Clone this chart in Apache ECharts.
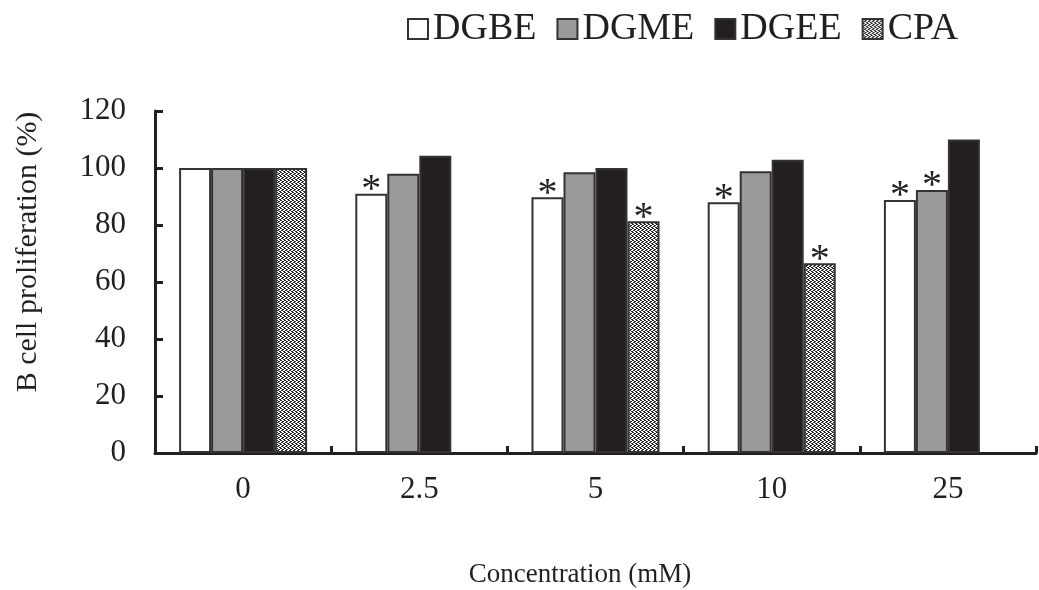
<!DOCTYPE html>
<html>
<head>
<meta charset="utf-8">
<script src="https://cdn.jsdelivr.net/npm/echarts@6/dist/echarts.min.js"></script>
<style>html,body{margin:0;padding:0;background:#fff}#c{width:1039px;height:590px}</style>
</head>
<body>
<div id="c"></div>
<script>
var categories = ['0', '2.5', '5', '10', '25'];
var seriesNames = ['DGBE', 'DGME', 'DGEE', 'CPA'];
var dgbe = [100, 91, 89.7, 88, 88.8];
var dgme = [100, 98, 98.5, 98.9, 92.3];
var dgee = [100, 104.3, 100, 102.9, 110];
var cpa = [100, null, 81.3, 66.6, null];
var sigDGBE = [false, true, true, true, true];
var sigDGME = [false, false, false, false, true];
var sigDGEE = [false, false, false, false, false];
var sigCPA = [false, false, true, true, false];
var yTicks = [0, 20, 40, 60, 80, 100, 120];
var xTitle = 'Concentration (mM)';
var yTitle = 'B cell proliferation (%)';

var FONT = '"Liberation Serif", "DejaVu Serif", serif';

function makePattern() {
  var c = document.createElement('canvas');
  c.width = 4; c.height = 4;
  var ctx = c.getContext('2d');
  ctx.fillStyle = '#ffffff';
  ctx.fillRect(0, 0, 4, 4);
  ctx.fillStyle = '#2a2a2a';
  ctx.fillRect(0, 0, 2, 1);
  ctx.fillRect(2, 1, 2, 1);
  ctx.fillRect(1, 2, 2, 1);
  ctx.fillRect(3, 3, 1, 1);
  ctx.fillRect(0, 3, 1, 1);
  return c;
}
var pattern = {image: makePattern(), repeat: 'repeat'};

function build(values, sig) {
  return values.map(function (v, i) {
    return {
      value: v,
      label: {show: !!sig[i] && v != null}
    };
  });
}

var fills = ['#ffffff', '#9a9a9c', '#231f20', pattern];
var datas = [build(dgbe, sigDGBE), build(dgme, sigDGME), build(dgee, sigDGEE), build(cpa, sigCPA)];

var series = seriesNames.map(function (name, k) {
  return {
    name: name,
    type: 'bar',
    barWidth: 32,
    barGap: '0%',
    data: datas[k],
    itemStyle: {color: fills[k], borderColor: '#333333', borderWidth: 2},
    label: {
      position: 'top',
      distance: -17,
      formatter: '*',
      fontFamily: FONT,
      fontSize: 40,
      color: '#231f20'
    },
    emphasis: {disabled: true}
  };
});

var chart = echarts.init(document.getElementById('c'), null, {renderer: 'canvas'});
chart.setOption({
  animation: false,
  backgroundColor: '#ffffff',
  legend: {
    left: 402,
    top: 5,
    itemWidth: 20,
    itemHeight: 20,
    itemGap: 20,
    icon: 'rect',
    textStyle: {fontFamily: FONT, fontSize: 38, color: '#231f20'},
    data: seriesNames
  },
  grid: {left: 155, right: 3, top: 111, bottom: 137, containLabel: false},
  xAxis: {
    type: 'category',
    data: categories,
    axisLine: {lineStyle: {color: '#231f20', width: 3}},
    axisTick: {show: true, inside: true, length: 7, lineStyle: {color: '#231f20', width: 3}},
    axisLabel: {fontFamily: FONT, fontSize: 31, color: '#231f20', margin: 21}
  },
  yAxis: {
    type: 'value',
    min: yTicks[0],
    max: yTicks[yTicks.length - 1],
    interval: yTicks[1] - yTicks[0],
    axisLine: {show: true, lineStyle: {color: '#231f20', width: 3}},
    axisTick: {show: true, inside: true, length: 8, lineStyle: {color: '#231f20', width: 3}},
    splitLine: {show: false},
    axisLabel: {fontFamily: FONT, fontSize: 31, color: '#231f20', margin: 29}
  },
  graphic: [{
    type: 'text',
    x: 28,
    y: 252,
    rotation: Math.PI / 2,
    style: {
      text: yTitle,
      fontFamily: FONT,
      fontSize: 30,
      fill: '#231f20',
      align: 'center',
      verticalAlign: 'middle'
    }
  }, {
    type: 'text',
    x: 580,
    y: 575,
    style: {
      text: xTitle,
      fontFamily: FONT,
      fontSize: 27,
      fill: '#231f20',
      align: 'center',
      verticalAlign: 'middle'
    }
  }],
  series: series
});
</script>
</body>
</html>
